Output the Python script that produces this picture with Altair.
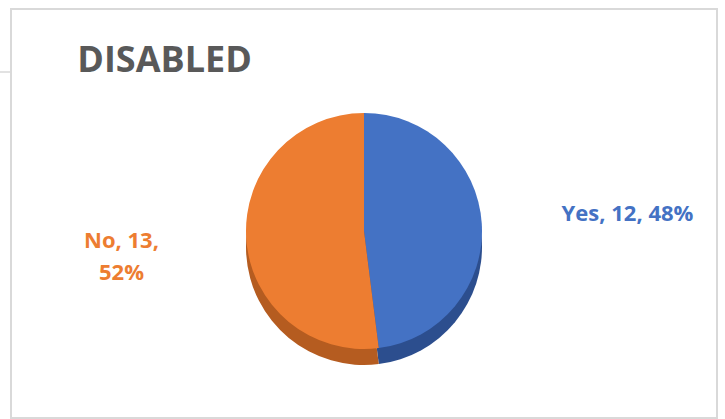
import altair as alt
import pandas as pd

categories = ["Yes", "No"]
counts = [12, 13]
percents = ["48%", "52%"]
labels = ["Yes, 12, 48%", "No, 13,\n52%"]
top_colors = ["#4472C4", "#ED7D31"]
side_colors = ["#2C4E8E", "#B55C20"]

df = pd.DataFrame({
    "category": categories,
    "count": counts,
    "pct": percents,
    "label": labels,
    "order": list(range(len(categories))),
})

CX, CY, R, DEPTH = 353, 222, 118, 16

base = alt.Chart(df).encode(
    theta=alt.Theta("count:Q", stack=True),
    order=alt.Order("order:Q"),
)

side = base.mark_arc(radius=R).encode(
    x=alt.value(CX), y=alt.value(CY + DEPTH),
    color=alt.Color("category:N", scale=alt.Scale(domain=categories, range=side_colors), legend=None),
)
top = base.mark_arc(radius=R).encode(
    x=alt.value(CX), y=alt.value(CY),
    color=alt.Color("category:N", scale=alt.Scale(domain=categories, range=top_colors), legend=None),
)

yes_text = base.mark_text(
    radius=198, align="left", baseline="middle", font="Open Sans",
    fontSize=22, fontWeight="bold", color=top_colors[0], lineBreak="\n", dy=-5,
).encode(
    x=alt.value(CX), y=alt.value(CY),
    text=alt.condition(alt.datum.category == "Yes", "label:N", alt.value("")),
)
no_text = base.mark_text(
    radius=243, align="center", baseline="middle", font="Open Sans",
    fontSize=22, fontWeight="bold", color=top_colors[1], lineBreak="\n", lineHeight=32,
    dy=-5,
).encode(
    x=alt.value(CX), y=alt.value(CY),
    text=alt.condition(alt.datum.category == "No", "label:N", alt.value("")),
)

tick = alt.Chart(pd.DataFrame({"a": [0]})).mark_rule(color="#d9d9d9", strokeWidth=1.5).encode(
    x=alt.value(-11), x2=alt.value(0), y=alt.value(63)
)

chart = alt.layer(side, top, yes_text, no_text, tick).resolve_scale(
    color="independent"
).properties(
    width=706,
    height=409,
    padding={"left": 11, "top": 9, "right": 8, "bottom": 1},
    autosize=alt.AutoSizeParams(type="none"),
    title=alt.TitleParams(
        "DISABLED", anchor="start", font="Open Sans", fontSize=36, fontWeight="bold",
        color="#595959", dx=78, dy=99, offset=0, baseline="alphabetic",
    ),
).configure_view(stroke="#d9d9d9", strokeWidth=2)

chart.save("out.html", embed_options={"renderer": "svg", "actions": False})
